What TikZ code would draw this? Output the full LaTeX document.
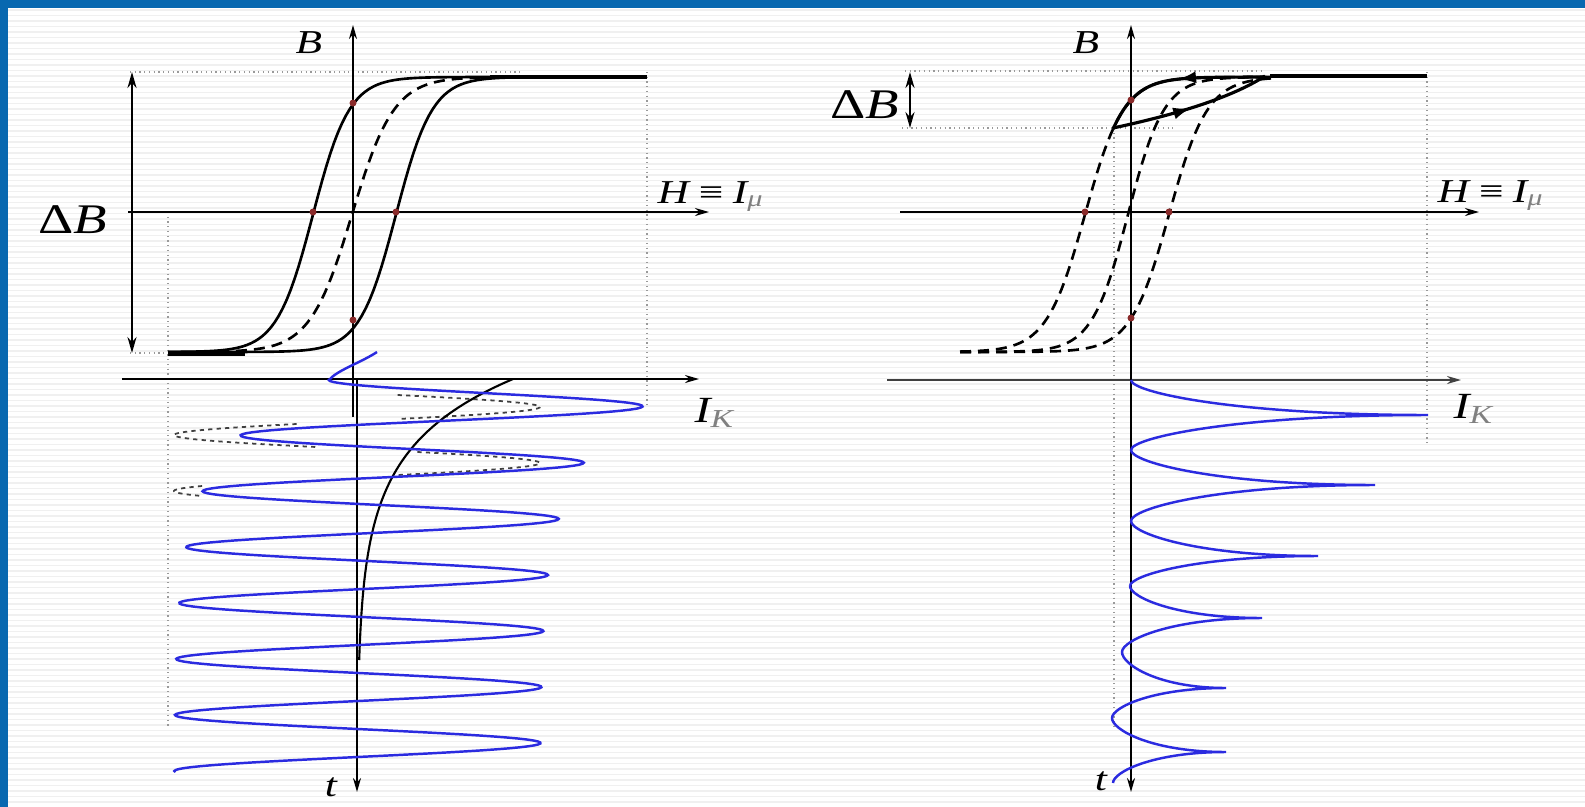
\documentclass[tikz,border=0pt]{standalone}
\usepackage{graphicx}
\usepackage{fontspec}
\setmainfont{Liberation Serif}
\usetikzlibrary{arrows.meta,decorations.markings}
\definecolor{frameblue}{HTML}{0868B0}
\definecolor{curveblue}{HTML}{2B2BE0}
\definecolor{dotred}{HTML}{8A2A2A}
\definecolor{guidegray}{HTML}{9A9A9A}
\newcommand{\widelbl}[1]{\scalebox{1.3}[1]{#1}}

\begin{document}
\begin{tikzpicture}[
    x=0.1mm, y=-0.1mm,
    axis/.style={line width=0.55pt, -{Stealth[length=1.4mm, width=0.8mm]}},
    guide/.style={guidegray, line width=0.35pt, densely dotted},
    curve/.style={line width=0.75pt},
    dashcurve/.style={line width=0.75pt, dash pattern=on 1.1mm off 0.7mm},
    satline/.style={line width=1.3pt},
    ghost/.style={black!75, line width=0.5pt, dash pattern=on 1.2pt off 1.2pt},
    wave/.style={curveblue, line width=0.7pt},
    hitdot/.style={circle, fill=dotred, inner sep=0pt, minimum size=0.7mm},
    lbl/.style={inner sep=0pt, font=\fontsize{9.5}{11}\selectfont\itshape},
    biglbl/.style={inner sep=0pt, font=\fontsize{12}{14}\selectfont},
    dbarrow/.style={line width=0.6pt, {Stealth[length=1.6mm, width=0.9mm]}-{Stealth[length=1.6mm, width=0.9mm]}},
    flow/.style={postaction={decorate}, decoration={markings, mark=at position #1 with {\arrow{Latex[length=1.8mm, width=1.2mm]}}}}
]
    % page, scan stripes and frame
    \useasboundingbox (0,0) rectangle (1585,807);
    \fill[white] (0,0) rectangle (1585,807);
    \foreach \s in {10,15.5,...,807}
        \draw[black!6, line width=0.55pt] (8,\s) -- (1585,\s);
    \fill[frameblue] (0,0) rectangle (1585,8);
    \fill[frameblue] (0,0) rectangle (8,807);

    % ---- left: full loop ----
    \draw[guide] (130,72) -- (520,72);
    \draw[guide] (647,72) -- (647,405);
    \draw[guide] (168,212) -- (168,728);
    \draw[guide] (130,353) -- (168,353);

    \draw[axis] (128,212) -- (709,212);
    \draw[axis] (122,379) -- (699,379);
    \draw[axis] (353,417) -- (353,25);
    \draw[axis] (357,379) -- (357,792);
    \draw[dbarrow] (132,72) -- (132,353);

    \draw[satline] (490,77) -- (647,77);
    \draw[satline] (168,354) -- (245,354);
    \draw[curve] plot[domain=168:520, samples=90] (\x, {214.5-137.5*tanh((\x-313)/36.3)});
    \draw[curve] plot[domain=168:520, samples=90] (\x, {214.5-137.5*tanh((\x-396)/36.3)});
    \draw[dashcurve] plot[domain=200:500, samples=90] (\x, {214.5-137.5*tanh((\x-352)/42)});
    \foreach \p/\q/\n in {353/103/a, 313/212/b, 396/212/c, 353/320/d}
        \node[hitdot] (dotL\n) at (\p,\q) {};

    % steady part, aperiodic part and inrush current
    \foreach \a/\b in {395/419, 424/447, 452/475, 486/496}
        \draw[ghost] plot[variable=\t, domain=\a:\b, samples=30] ({357-183*cos((\t-379)/56*360)}, \t);
    \draw[curve, line width=0.6pt] plot[variable=\t, domain=379:660, samples=60] ({357+156*exp(-(\t-379)/66)}, \t);
    \draw[wave] (377,352) .. controls (362,362) and (338,370) .. (330,379);
    \draw[wave] plot[variable=\t, domain=379:772, samples=400]
        ({357+156*exp(-(\t-379)/66)-183*cos((\t-379)/56*360)}, \t);

    \node[lbl] (bLeft) at (309,43) {\widelbl{B}};
    \node[biglbl, anchor=base west] (dbLeft) at (38,233) {\widelbl{Δ\textit{B}}};
    \node[lbl, anchor=base west] (hLeft) at (657,203) {\widelbl{H\,≡\,I\textsubscript{\textcolor{gray}{μ}}}};
    \node[lbl, font=\fontsize{10.5}{12}\selectfont\itshape, anchor=base west] (ikLeft) at (694,422) {\widelbl{I\textsubscript{\textcolor{gray}{K}}}};
    \node[lbl] (tLeft) at (331,787) {\widelbl{t}};

    % ---- right: minor loop ----
    \draw[guide] (905,71) -- (1265,71);
    \draw[guide] (902,128) -- (1173,128);
    \draw[guide] (1427,72) -- (1427,443);
    \draw[guide] (1114,128) -- (1114,727);

    \draw[axis] (900,212) -- (1479,212);
    \draw[axis, black!75] (887,380) -- (1461,380);
    \draw[axis] (1131,380) -- (1131,25);
    \draw[axis] (1131,380) -- (1131,792);
    \draw[dbarrow] (910,72) -- (910,128);

    \draw[satline] (1270,76) -- (1427,76);
    \foreach \c/\w in {1085/38.5, 1128/36, 1169/38.5}
        \draw[dashcurve] plot[domain=960:1272, samples=90] (\x, {214.5-137.5*tanh((\x-\c)/\w)});
    \draw[curve, line width=0.9pt, flow=0.5] plot[domain=1265:1113, samples=60] (\x, {214.5-137.5*tanh((\x-1085)/38.5)});
    \draw[curve, line width=0.9pt, flow=0.5] (1113,128) .. controls (1165,117) and (1228,100) .. (1265,76);
    \foreach \p/\q/\n in {1085/212/a, 1169/212/b, 1131/100/c, 1131/318/d}
        \node[hitdot] (dotR\n) at (\p,\q) {};

    \foreach \sx/\sy/\tx/\ty/\ex/\ey in {1131/380/1428/415/1131/450, 1131/450/1375/485/1131/521,
            1131/521/1318/556/1130/586, 1130/586/1262/618/1122/652,
            1122/652/1226/688/1112/718, 1112/718/1226/752/1113/783}
        \draw[wave] (\sx,\sy) .. controls (\sx,{\sy+0.35*(\ty-\sy)}) and ({\tx-0.65*(\tx-\sx)},\ty) .. (\tx,\ty)
            .. controls ({\tx-0.65*(\tx-\ex)},\ty) and (\ex,{\ey-0.35*(\ey-\ty)}) .. (\ex,\ey);

    \node[lbl] (bRight) at (1086,43) {\widelbl{B}};
    \node[biglbl, anchor=base west] (dbRight) at (830,118) {\widelbl{Δ\textit{B}}};
    \node[lbl, anchor=base west] (hRight) at (1437,202) {\widelbl{H\,≡\,I\textsubscript{\textcolor{gray}{μ}}}};
    \node[lbl, font=\fontsize{10.5}{12}\selectfont\itshape, anchor=base west] (ikRight) at (1453,418) {\widelbl{I\textsubscript{\textcolor{gray}{K}}}};
    \node[lbl] (tRight) at (1101,781) {\widelbl{t}};
\end{tikzpicture}
\end{document}
